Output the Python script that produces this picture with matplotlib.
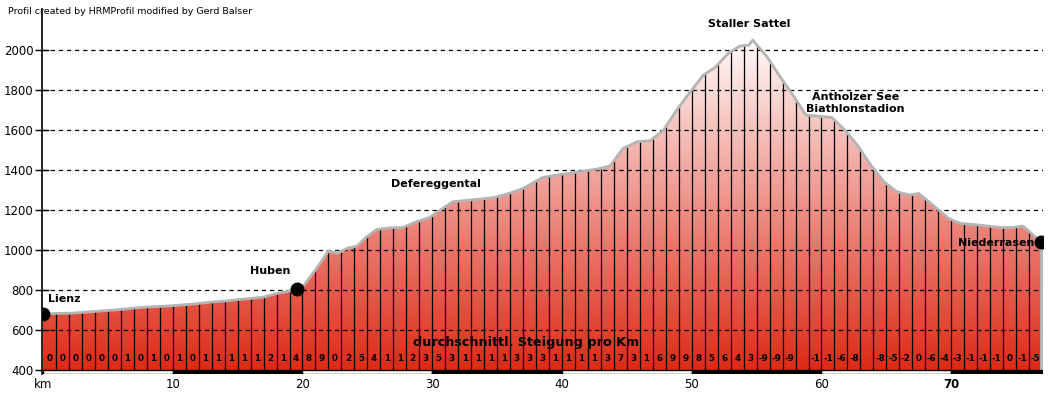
import numpy as np
import matplotlib
matplotlib.use('Agg')
import matplotlib.pyplot as plt
from matplotlib.colors import LinearSegmentedColormap
from matplotlib.patches import Rectangle

# profile: distance (km) and elevation (m)
km = [0.0, 1.0, 2.0, 3.0, 4.0, 5.0, 6.0, 7.0, 8.0, 9.0, 10.0, 11.0, 12.0, 13.0,
      14.0, 15.0, 16.0, 17.0, 18.0, 19.0, 19.6, 20.0, 21.0, 22.0, 22.7, 23.4,
      24.2, 24.8, 25.7, 26.9, 27.7, 28.8, 29.8, 30.8, 31.6, 32.9, 33.7, 34.8,
      36.0, 37.0, 38.5, 39.9, 41.2, 42.7, 43.7, 44.7, 45.8, 46.8, 47.8, 48.9,
      49.9, 50.9, 51.8, 52.8, 53.7, 54.4, 54.7, 55.8, 56.8, 57.8, 58.8, 60.8,
      61.8, 62.8, 63.8, 64.8, 65.8, 66.8, 67.5, 68.8, 69.8, 70.7, 71.7, 72.8,
      73.8, 74.8, 75.5, 75.9, 76.6, 76.9]
elev = [680, 683, 684, 688, 693, 698, 703, 710, 715, 718, 722, 727, 733, 740,
        745, 752, 758, 765, 783, 795, 806, 815, 900, 995, 983, 1008,
        1020, 1058, 1103, 1112, 1112, 1142, 1163, 1208, 1242, 1250, 1255, 1263,
        1285, 1308, 1363, 1378, 1390, 1405, 1420, 1508, 1542, 1547, 1598, 1705,
        1792, 1875, 1913, 1983, 2020, 2025, 2050, 1967, 1867, 1775, 1675, 1663,
        1600, 1522, 1425, 1342, 1292, 1275, 1283, 1213, 1158, 1133, 1128, 1120,
        1113, 1113, 1120, 1100, 1058, 1042]

# average gradient per km, as printed in each km cell ('' = no label)
steigung = ['0', '0', '0', '0', '0', '0', '1', '0', '1', '0',
            '1', '0', '1', '1', '1', '1', '1', '2', '1', '4',
            '8', '9', '0', '2', '5', '4', '1', '1', '2', '3',
            '5', '3', '1', '1', '1', '1', '3', '3', '3', '1',
            '1', '1', '1', '3', '7', '3', '1', '6', '9', '9',
            '8', '5', '6', '4', '3', '-9', '-9', '-9', '', '-1',
            '-1', '-6', '-8', '', '-8', '-5', '-2', '0', '-6', '-4',
            '-3', '-1', '-1', '-1', '0', '-1', '-5']

orte = ['Lienz', 'Huben', 'Niederrasen']
orte_km = [0.0, 19.6, 76.9]
orte_elev = [680, 806, 1042]

y_ticks = [400, 600, 800, 1000, 1200, 1400, 1600, 1800, 2000]
x_ticks = [0, 10, 20, 30, 40, 50, 60, 70]
x_labels = ['km', '10', '20', '30', '40', '50', '60', '70']

fig = plt.figure(figsize=(10.49, 3.95), dpi=100)
ax = fig.add_axes([0.040, 0.053, 0.954, 0.924])

x_max = 77.05
y_min, y_max = 380, 2205

# gradient fill clipped to the profile
poly = ax.fill_between(km, elev, 400, color='none', lw=0)
cmap = LinearSegmentedColormap.from_list('rot', ['#dd2a16', '#ffffff'])
grad = np.linspace(0, 1, 256).reshape(-1, 1)
img = ax.imshow(grad, extent=[0, km[-1], 400, 2090], aspect='auto',
                cmap=cmap, origin='lower', zorder=1)
img.set_clip_path(poly.get_paths()[0], transform=ax.transData)

# km lines
for k in range(1, int(km[-1]) + 1):
  ax.vlines(k, 400, np.interp(k, km, elev), color='black', lw=0.9, zorder=3)

# grid
for y in y_ticks[1:]:
  ax.axhline(y, color='black', lw=0.9, ls=(0, (3.5, 3)), zorder=2)

# outline
ax.plot(km, elev, color='#b4b4b4', lw=2, zorder=4)
ax.plot([km[-1], km[-1]], [elev[-1], 400], color='#b4b4b4', lw=2, zorder=4)

ax.plot(orte_km, orte_elev, 'o', color='black', ms=9, zorder=5)

# gradient labels
for i, s in enumerate(steigung):
  ax.text(i + 0.5, 458, s, ha='center', va='center', fontsize=6.3,
          fontweight='bold', color='black', zorder=6)

bold = dict(fontweight='bold', fontsize=8, color='black', zorder=6)
ax.text(0.4, 755, 'Lienz', ha='left', va='center', **bold)
ax.text(17.5, 895, 'Huben', ha='center', va='center', **bold)
ax.text(30.3, 1330, 'Defereggental', ha='center', va='center', **bold)
ax.text(54.4, 2130, 'Staller Sattel', ha='center', va='center', **bold)
ax.text(62.6, 1765, 'Antholzer See', ha='center', va='center', **bold)
ax.text(62.6, 1705, 'Biathlonstadion', ha='center', va='center', **bold)
ax.text(76.4, 1035, 'Niederrasen', ha='right', va='center', **bold)
ax.text(37.2, 540, 'durchschnittl. Steigung pro Km', ha='center', va='center',
        fontweight='bold', fontsize=9.2, color='black', zorder=6)

# alternating km bar at the bottom
for i in range(0, 80, 10):
  ax.add_patch(Rectangle((i, y_min), min(10, x_max - i), 400 - y_min,
                         facecolor='white' if (i // 10) % 2 == 0 else 'black',
                         edgecolor='black', lw=1, zorder=7))

ax.set_xlim(-0.08, x_max)
ax.set_ylim(y_min, y_max)

ax.set_yticks(y_ticks)
ax.tick_params(axis='y', direction='inout', length=10, width=1, labelsize=8.5, pad=1)
ax.set_xticks(x_ticks)
ax.set_xticklabels(x_labels)
ax.tick_params(axis='x', length=0, labelsize=8.5, pad=3)
ax.get_xticklabels()[-1].set_fontweight('bold')

for side in ['top', 'right', 'bottom']:
  ax.spines[side].set_visible(False)
ax.spines['left'].set_linewidth(1.2)

fig.text(8 / 1049, 1 - 12 / 395, 'Profil created by HRMProfil modified by Gerd Balser',
         ha='left', va='center', fontsize=6.8)

fig.savefig('out.png', dpi=100)
